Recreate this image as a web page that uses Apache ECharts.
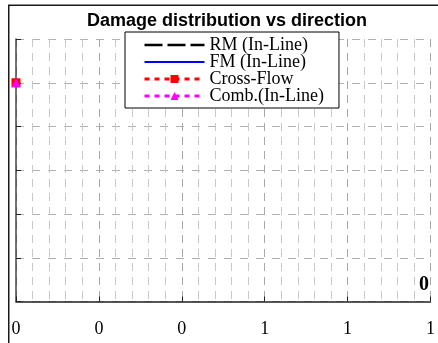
<!DOCTYPE html>
<html>
<head>
<meta charset="utf-8">
<script src="https://cdn.jsdelivr.net/npm/echarts@6/dist/echarts.min.js"></script>
<style>
  html, body { margin: 0; padding: 0; background: #fff; }
  #chart { width: 438px; height: 343px; }
</style>
</head>
<body>
<div id="chart"></div>
<script>
// Direction (x) and normalised damage (y) for each damage model
const directions = [0];
const rmInLine = [1];
const fmInLine = [1];
const crossFlow = [1];
const combInLine = [1];
const seriesNames = ['RM (In-Line)', 'FM (In-Line)', 'Cross-Flow', 'Comb.(In-Line)'];
const cornerNote = '0';

const pairs = vals => directions.map((d, i) => [d, vals[i]]);

const chart = echarts.init(document.getElementById('chart'), null, { renderer: 'canvas' });

const serif = 'Liberation Serif';
const sans = 'Liberation Sans';

// Line-only series get no marker in the legend key
const plainKey = name => ({ name, itemStyle: { opacity: 0 } });

chart.setOption({
  animation: false,
  backgroundColor: '#fff',
  title: {
    text: 'Damage distribution vs direction',
    left: 87,
    top: 12,
    padding: 0,
    textStyle: { fontFamily: sans, fontWeight: 'bold', fontSize: 18, color: '#000' }
  },
  legend: {
    orient: 'vertical',
    left: 125,
    top: 32,
    padding: [4, 15, 3, 18],
    itemGap: -1,
    itemWidth: 60,
    itemHeight: 10,
    backgroundColor: '#fff',
    borderColor: '#000',
    borderWidth: 1,
    borderRadius: 0,
    lineStyle: { width: 'inherit', type: 'inherit' },
    data: [plainKey(seriesNames[0]), plainKey(seriesNames[1]), seriesNames[2], seriesNames[3]],
    textStyle: { fontFamily: serif, fontSize: 18, color: '#000' }
  },
  grid: { left: 16, right: 3, top: 39, bottom: 41.5, containLabel: false },
  xAxis: {
    type: 'value',
    min: 0,
    max: 1,
    interval: 0.2,
    axisLine: { show: true, onZero: false, lineStyle: { color: '#222', width: 1.5 } },
    axisTick: { show: true, inside: true, length: 5, lineStyle: { color: '#222' } },
    minorTick: { show: false, splitNumber: 5 },
    axisLabel: {
      margin: 19,
      fontFamily: serif,
      fontSize: 18,
      color: '#000',
      formatter: v => v.toFixed(0)
    },
    splitLine: { show: true, lineStyle: { color: '#a8a8a8', type: [8, 6], width: 1 } },
    minorSplitLine: { show: true, lineStyle: { color: '#c8c8c8', type: [8, 6], width: 1 } }
  },
  yAxis: {
    type: 'value',
    min: 0,
    max: 1.2,
    interval: 0.2,
    axisLine: { show: true, onZero: false, lineStyle: { color: '#444', width: 1.5 } },
    axisTick: { show: true, inside: true, length: 5, lineStyle: { color: '#222' } },
    axisLabel: { show: false },
    splitLine: { show: true, lineStyle: { color: '#b0b0b0', type: [8, 8], width: 1 } }
  },
  graphic: [
    {
      type: 'rect',
      silent: true,
      z: 100,
      shape: { x: 8.75, y: 5.25, width: 500, height: 500 },
      style: { fill: 'none', stroke: '#1a1a1a', lineWidth: 1.5 }
    },
    {
      type: 'text',
      silent: true,
      z: 100,
      x: 424,
      y: 285,
      style: {
        text: cornerNote,
        fontFamily: serif,
        fontWeight: 'bold',
        fontSize: 20,
        fill: '#000',
        align: 'center',
        verticalAlign: 'middle'
      }
    }
  ],
  series: [
    {
      name: seriesNames[0],
      type: 'line',
      data: pairs(rmInLine),
      symbol: 'none',
      clip: false,
      itemStyle: { color: '#000' },
      lineStyle: { color: '#000', width: 2.5, type: [18, 5] }
    },
    {
      name: seriesNames[1],
      type: 'line',
      data: pairs(fmInLine),
      symbol: 'none',
      clip: false,
      itemStyle: { color: '#0000ff' },
      lineStyle: { color: '#0000ff', width: 2 }
    },
    {
      name: seriesNames[2],
      type: 'line',
      data: pairs(crossFlow),
      symbol: 'rect',
      symbolSize: 9,
      clip: false,
      itemStyle: { color: '#ff0000' },
      lineStyle: { color: '#ff0000', width: 3, type: [5, 5] }
    },
    {
      name: seriesNames[3],
      type: 'line',
      data: pairs(combInLine),
      symbol: 'triangle',
      symbolSize: 9,
      clip: false,
      itemStyle: { color: '#ff00ff' },
      lineStyle: { color: '#ff00ff', width: 3, type: [5, 5] }
    }
  ]
});
</script>
</body>
</html>
